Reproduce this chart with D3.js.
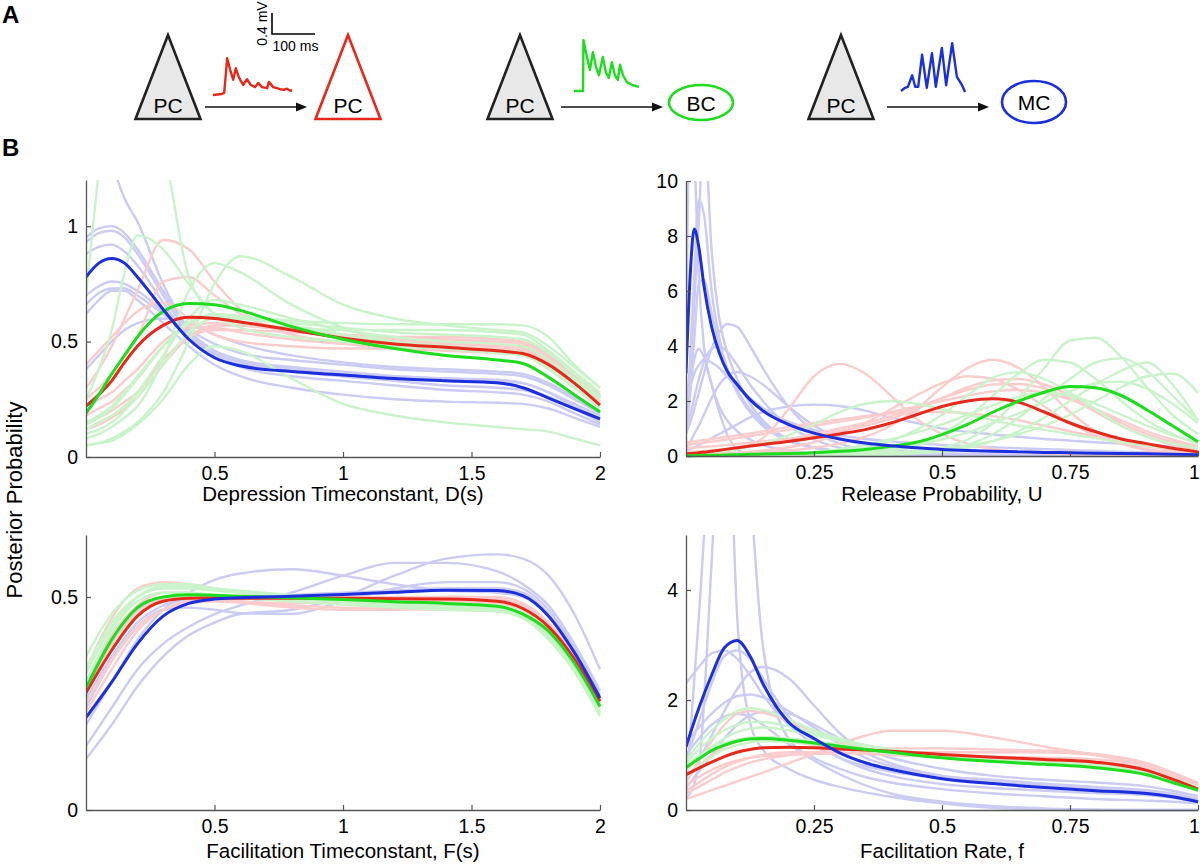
<!DOCTYPE html>
<html><head><meta charset="utf-8">
<script src="https://cdn.jsdelivr.net/npm/d3@7"></script>
<style>
body{margin:0;background:#fff}
svg{display:block}
text{font-family:"Liberation Sans",Arial,Helvetica,sans-serif}
</style></head>
<body>
<script>
// ---------------- DATA ----------------
// Panel A traces (time in ms, amplitude in mV)
const traceRedT   = [0,21,26,33,40,47,53,60,70,79,88,98,105,114,126,130,140,156,165,172,178,184];
const traceRedV   = [0,0.02,0.04,0.70,0.48,0.29,0.51,0.34,0.19,0.30,0.19,0.15,0.23,0.15,0.13,0.25,0.15,0.11,0.10,0.12,0.09,0.08];
const traceGreenT = [0,21,22,30,37,44,51,58,67,74,81,88,95,102,107,114,123,137,151];
const traceGreenV = [0,0,0.97,0.65,0.40,0.74,0.46,0.30,0.65,0.36,0.25,0.55,0.30,0.21,0.50,0.30,0.17,0.11,0.08];
const traceBlueT  = [0,9,16,26,33,40,49,60,72,81,95,105,119,130,142,149];
const traceBlueV  = [0,0.06,0.08,0.30,0.08,0.08,0.69,0.06,0.72,0.08,0.82,0.11,0.91,0.27,0.11,-0.02];
const scaleBarMs = 100, scaleBarMv = 0.4;

// Panel B — Depression timeconstant D(s)
const dGrid  = [0,0.05,0.1,0.15,0.2,0.3,0.4,0.5,0.6,0.8,1.0,1.2,1.4,1.6,1.7,1.8,1.9,2.0];
const dRed   = [0.22,0.27,0.33,0.41,0.48,0.57,0.605,0.60,0.585,0.55,0.515,0.49,0.475,0.46,0.448,0.40,0.32,0.225];
const dGreen = [0.19,0.27,0.36,0.44,0.52,0.63,0.665,0.66,0.635,0.565,0.51,0.47,0.44,0.42,0.405,0.345,0.27,0.195];
const dBlue  = [0.78,0.84,0.86,0.84,0.78,0.64,0.51,0.43,0.395,0.37,0.355,0.34,0.33,0.322,0.30,0.255,0.21,0.165];
const dRedFaint = [
 [0.3,0.38,0.48,0.6,0.72,0.94,0.9,0.76,0.64,0.53,0.5,0.49,0.48,0.47,0.46,0.41,0.33,0.25],
 [0.25,0.3,0.36,0.44,0.52,0.76,0.78,0.7,0.62,0.55,0.52,0.5,0.49,0.48,0.47,0.42,0.34,0.26],
 [0.18,0.21,0.24,0.29,0.34,0.48,0.57,0.58,0.57,0.55,0.53,0.52,0.51,0.5,0.49,0.44,0.35,0.26],
 [0.15,0.17,0.2,0.24,0.28,0.42,0.52,0.55,0.55,0.54,0.53,0.52,0.52,0.51,0.5,0.45,0.36,0.27],
 [0.4,0.46,0.52,0.58,0.63,0.67,0.6,0.53,0.5,0.48,0.47,0.47,0.47,0.46,0.45,0.41,0.33,0.25],
 [0.12,0.14,0.17,0.21,0.26,0.4,0.52,0.57,0.57,0.55,0.53,0.51,0.5,0.49,0.48,0.43,0.35,0.27],
 [0.22,0.25,0.28,0.33,0.38,0.5,0.56,0.56,0.54,0.51,0.49,0.47,0.46,0.45,0.44,0.39,0.32,0.24]
];
const dGreenFaint = [
 [0.70,1.25,1.7,1.8,1.65,1.35,0.78,0.62,0.58,0.56,0.55,0.55,0.55,0.54,0.53,0.46,0.37,0.28],
 [0.25,0.38,0.55,0.8,0.96,0.9,0.75,0.62,0.56,0.52,0.5,0.48,0.47,0.46,0.45,0.4,0.33,0.25],
 [0.05,0.06,0.08,0.11,0.15,0.28,0.5,0.75,0.87,0.78,0.66,0.6,0.57,0.55,0.54,0.48,0.39,0.3],
 [0.08,0.1,0.13,0.17,0.22,0.42,0.72,0.84,0.8,0.66,0.56,0.5,0.47,0.45,0.44,0.38,0.3,0.22],
 [0.12,0.15,0.18,0.22,0.28,0.44,0.6,0.68,0.66,0.6,0.55,0.52,0.5,0.49,0.48,0.42,0.34,0.25],
 [0.05,0.06,0.07,0.1,0.14,0.25,0.4,0.48,0.46,0.34,0.23,0.18,0.15,0.13,0.12,0.11,0.08,0.05],
 [0.15,0.18,0.22,0.28,0.35,0.48,0.58,0.62,0.61,0.59,0.58,0.575,0.575,0.575,0.57,0.52,0.4,0.3],
 [0.1,0.12,0.15,0.2,0.26,0.4,0.54,0.6,0.6,0.57,0.53,0.5,0.48,0.46,0.45,0.39,0.3,0.21],
 [0.14,0.17,0.21,0.27,0.34,0.48,0.58,0.61,0.6,0.58,0.56,0.54,0.53,0.52,0.51,0.45,0.36,0.26]
];
const dBlueFaint = [
 [0.95,0.99,1.0,0.97,0.9,0.72,0.55,0.46,0.42,0.39,0.37,0.35,0.34,0.33,0.32,0.28,0.23,0.18],
 [0.93,0.97,0.98,0.95,0.88,0.70,0.53,0.44,0.40,0.37,0.35,0.34,0.33,0.32,0.30,0.26,0.21,0.16],
 [0.88,0.91,0.92,0.89,0.83,0.67,0.52,0.45,0.41,0.38,0.36,0.35,0.34,0.335,0.32,0.28,0.22,0.17],
 [0.70,0.74,0.76,0.75,0.72,0.63,0.54,0.46,0.42,0.38,0.35,0.33,0.31,0.30,0.29,0.26,0.21,0.15],
 [0.66,0.71,0.73,0.73,0.70,0.62,0.55,0.49,0.45,0.42,0.40,0.38,0.37,0.36,0.35,0.31,0.25,0.19],
 [0.38,0.44,0.50,0.55,0.58,0.60,0.58,0.53,0.49,0.44,0.41,0.39,0.38,0.37,0.36,0.32,0.26,0.20],
 [1.7,1.5,1.28,1.12,1.02,0.75,0.55,0.44,0.39,0.35,0.33,0.31,0.29,0.28,0.27,0.24,0.19,0.14],
 [0.62,0.68,0.72,0.72,0.68,0.58,0.48,0.40,0.35,0.30,0.27,0.25,0.24,0.235,0.23,0.21,0.17,0.13]
];

// Panel B — Release probability U
const uGrid  = [0,0.008,0.016,0.025,0.035,0.05,0.065,0.08,0.1,0.125,0.15,0.2,0.25,0.3,0.35,0.4,0.45,0.5,0.55,0.6,0.65,0.7,0.75,0.8,0.85,0.9,0.95,1.0];
const uRed   = [0.08,0.09,0.1,0.12,0.14,0.17,0.21,0.25,0.3,0.36,0.42,0.53,0.66,0.8,0.96,1.2,1.5,1.8,2.0,2.08,1.95,1.6,1.2,0.88,0.62,0.45,0.28,0.15];
const uGreen = [0.01,0.01,0.015,0.02,0.02,0.03,0.03,0.04,0.05,0.06,0.07,0.09,0.12,0.17,0.24,0.35,0.5,0.78,1.15,1.6,2.0,2.32,2.53,2.48,2.2,1.68,1.1,0.52];
const uBlue  = [3.0,6.5,8.25,7.6,6.2,4.7,3.75,3.1,2.6,2.05,1.65,1.15,0.83,0.62,0.47,0.37,0.3,0.24,0.2,0.17,0.15,0.13,0.12,0.1,0.09,0.08,0.06,0.05];
const uRedFaint = [
 [0.05,0.05,0.06,0.07,0.08,0.1,0.13,0.17,0.25,0.4,0.65,1.7,2.9,3.35,3.0,2.2,1.35,0.8,0.45,0.25,0.15,0.1,0.07,0.05,0.04,0.03,0.03,0.02],
 [0.05,0.05,0.05,0.06,0.06,0.07,0.08,0.09,0.1,0.12,0.14,0.2,0.3,0.45,0.7,1.1,1.7,2.5,3.2,3.5,3.2,2.5,1.6,0.9,0.45,0.22,0.12,0.06],
 [0.3,0.3,0.31,0.32,0.33,0.35,0.37,0.4,0.43,0.48,0.53,0.63,0.75,0.9,1.1,1.35,1.7,2.1,2.5,2.75,2.8,2.6,2.2,1.7,1.2,0.8,0.5,0.3],
 [0.5,0.52,0.54,0.56,0.58,0.62,0.66,0.7,0.75,0.82,0.9,1.05,1.2,1.33,1.45,1.55,1.6,1.6,1.55,1.45,1.3,1.1,0.9,0.7,0.5,0.35,0.22,0.12],
 [0.15,0.15,0.16,0.17,0.18,0.2,0.22,0.25,0.3,0.36,0.43,0.6,0.8,1.0,1.2,1.45,1.75,2.1,2.4,2.6,2.62,2.45,2.1,1.6,1.1,0.7,0.4,0.2],
 [0.05,0.05,0.05,0.06,0.06,0.07,0.08,0.1,0.12,0.15,0.2,0.32,0.5,0.8,1.2,1.7,2.2,2.65,2.9,2.8,2.4,1.8,1.2,0.75,0.45,0.25,0.15,0.08],
 [0.4,0.42,0.44,0.46,0.48,0.52,0.56,0.6,0.65,0.72,0.8,0.95,1.1,1.25,1.4,1.6,1.8,2.0,2.2,2.35,2.4,2.3,2.05,1.7,1.3,0.9,0.6,0.35]
];
const uGreenFaint = [
 [0.01,0.01,0.01,0.01,0.01,0.01,0.01,0.01,0.01,0.01,0.01,0.01,0.01,0.02,0.03,0.07,0.15,0.3,0.6,1.2,2.1,3.2,4.2,4.3,3.6,2.5,1.5,0.8],
 [0,0,0,0,0,0,0.01,0.01,0.01,0.01,0.01,0.01,0.02,0.03,0.04,0.05,0.1,0.2,0.4,0.8,1.4,2.1,2.8,3.4,3.55,3.1,2.2,1.3],
 [0,0,0,0,0,0,0,0.01,0.01,0.01,0.01,0.02,0.03,0.05,0.08,0.1,0.12,0.15,0.3,0.55,0.9,1.4,2.0,2.6,3.1,3.4,2.6,1.3],
 [0.01,0.01,0.01,0.01,0.01,0.01,0.01,0.01,0.01,0.02,0.02,0.03,0.04,0.06,0.1,0.2,0.4,0.8,1.4,2.2,3.0,3.5,3.4,2.8,2.0,1.3,0.8,0.45],
 [0.01,0.01,0.01,0.01,0.01,0.02,0.02,0.02,0.03,0.04,0.05,0.07,0.1,0.15,0.3,0.55,0.95,1.5,2.2,2.85,3.05,2.8,2.3,1.7,1.1,0.7,0.45,0.3],
 [0.1,0.1,0.11,0.12,0.13,0.15,0.17,0.2,0.25,0.35,0.45,0.75,1.15,1.6,1.9,2.0,1.9,1.7,1.5,1.3,1.1,0.95,0.8,0.65,0.5,0.38,0.27,0.18],
 [0.02,0.02,0.02,0.02,0.02,0.03,0.03,0.03,0.04,0.05,0.06,0.08,0.1,0.1,0.15,0.25,0.4,0.6,0.85,1.2,1.55,1.95,2.35,2.65,2.7,2.45,1.9,1.2],
 [0.02,0.02,0.02,0.02,0.02,0.03,0.03,0.04,0.05,0.06,0.07,0.1,0.15,0.25,0.4,0.6,0.85,1.15,1.5,1.85,2.15,2.3,2.2,1.9,1.5,1.1,0.75,0.5],
 [0,0,0,0,0,0,0,0,0.01,0.01,0.01,0.02,0.03,0.05,0.08,0.12,0.18,0.25,0.38,0.55,0.8,1.1,1.5,2.0,2.5,2.9,3.0,2.3]
];
const uBlueFaint = [
 [3.5,12,11,6.5,4.0,2.6,1.8,1.3,0.9,0.6,0.4,0.2,0.1,0.06,0.04,0.03,0.02,0.02,0.02,0.01,0.01,0.01,0.01,0.01,0.01,0.01,0.01,0.01],
 [1.0,3.0,5.5,8.5,12,7.5,5.0,3.8,2.8,1.9,1.3,0.6,0.3,0.18,0.12,0.08,0.06,0.05,0.04,0.03,0.03,0.02,0.02,0.02,0.02,0.01,0.01,0.01],
 [1.5,3.5,6.5,9.3,8.8,6.0,4.3,3.2,2.3,1.6,1.1,0.55,0.3,0.18,0.12,0.09,0.07,0.05,0.04,0.03,0.03,0.02,0.02,0.02,0.02,0.01,0.01,0.01],
 [1.0,2.2,4.2,6.3,6.4,5.2,4.0,3.2,2.4,1.7,1.2,0.6,0.3,0.18,0.12,0.08,0.06,0.05,0.04,0.04,0.03,0.03,0.03,0.02,0.02,0.02,0.02,0.02],
 [0.8,1.2,1.7,2.3,3.0,3.9,4.5,4.8,4.7,4.0,3.2,1.8,0.9,0.45,0.22,0.12,0.07,0.05,0.04,0.03,0.03,0.02,0.02,0.02,0.02,0.02,0.01,0.01],
 [1.0,1.5,2.1,2.8,3.4,3.9,4.0,3.8,3.3,2.6,2.0,1.1,0.6,0.3,0.15,0.08,0.05,0.04,0.03,0.03,0.02,0.02,0.02,0.02,0.02,0.01,0.01,0.01],
 [0.3,0.5,0.8,1.1,1.5,2.1,2.6,2.9,3.05,2.9,2.6,1.8,1.1,0.65,0.4,0.25,0.15,0.1,0.08,0.06,0.05,0.04,0.04,0.03,0.03,0.03,0.02,0.02],
 [0.2,0.25,0.3,0.4,0.5,0.65,0.8,0.95,1.15,1.4,1.6,1.8,1.87,1.82,1.65,1.4,1.2,1.0,0.88,0.78,0.7,0.62,0.56,0.5,0.45,0.4,0.35,0.3],
 [1.8,2.6,3.5,3.9,3.6,2.6,1.6,0.8,0.25,0.05,0.02,0.01,0.01,0,0,0,0,0,0,0,0,0,0,0,0,0,0,0],
 [2.0,2.5,3.0,3.3,3.5,3.4,3.2,2.9,2.5,2.1,1.75,1.25,0.95,0.75,0.62,0.53,0.46,0.4,0.36,0.32,0.28,0.25,0.22,0.19,0.16,0.14,0.12,0.1]
];

// Panel B — Facilitation timeconstant F(s)
const fGrid  = [0,0.1,0.2,0.3,0.4,0.5,0.6,0.8,1.0,1.2,1.4,1.6,1.7,1.8,1.9,2.0];
const fRed   = [0.275,0.375,0.455,0.49,0.497,0.498,0.497,0.497,0.497,0.496,0.495,0.49,0.473,0.43,0.355,0.255];
const fGreen = [0.286,0.40,0.475,0.50,0.505,0.504,0.502,0.498,0.494,0.489,0.485,0.478,0.46,0.42,0.345,0.243];
const fBlue  = [0.217,0.30,0.39,0.455,0.485,0.495,0.498,0.502,0.506,0.511,0.516,0.515,0.503,0.455,0.37,0.263];
const fRedFaint = [
 [0.33,0.45,0.52,0.535,0.53,0.52,0.51,0.5,0.495,0.49,0.49,0.485,0.47,0.43,0.36,0.26],
 [0.25,0.35,0.43,0.47,0.485,0.49,0.487,0.48,0.475,0.472,0.47,0.468,0.455,0.415,0.345,0.25],
 [0.3,0.41,0.48,0.51,0.51,0.5,0.49,0.485,0.49,0.495,0.5,0.5,0.485,0.44,0.365,0.26],
 [0.23,0.33,0.42,0.47,0.49,0.495,0.5,0.5,0.5,0.5,0.5,0.495,0.48,0.435,0.36,0.255],
 [0.28,0.39,0.465,0.495,0.5,0.495,0.487,0.475,0.47,0.47,0.473,0.475,0.46,0.42,0.35,0.25]
];
const fGreenFaint = [
 [0.36,0.46,0.515,0.53,0.53,0.52,0.51,0.5,0.49,0.485,0.48,0.475,0.46,0.42,0.345,0.24],
 [0.33,0.44,0.5,0.52,0.52,0.515,0.51,0.5,0.49,0.48,0.475,0.47,0.455,0.41,0.335,0.23],
 [0.3,0.42,0.49,0.51,0.51,0.505,0.5,0.495,0.488,0.48,0.473,0.468,0.45,0.405,0.33,0.225],
 [0.27,0.38,0.46,0.49,0.5,0.5,0.5,0.5,0.495,0.49,0.485,0.48,0.465,0.425,0.35,0.25],
 [0.32,0.43,0.5,0.525,0.525,0.52,0.515,0.505,0.497,0.49,0.485,0.48,0.465,0.42,0.34,0.235],
 [0.29,0.4,0.475,0.5,0.505,0.5,0.497,0.49,0.482,0.475,0.47,0.466,0.45,0.4,0.325,0.22]
];
const fBlueFaint = [
 [0.12,0.2,0.29,0.36,0.41,0.44,0.46,0.47,0.5,0.55,0.59,0.6,0.59,0.55,0.46,0.33],
 [0.15,0.24,0.33,0.39,0.43,0.46,0.48,0.51,0.55,0.58,0.58,0.56,0.53,0.48,0.39,0.28],
 [0.2,0.3,0.4,0.47,0.51,0.54,0.555,0.565,0.55,0.53,0.515,0.51,0.5,0.46,0.38,0.27],
 [0.24,0.35,0.43,0.47,0.475,0.47,0.462,0.46,0.49,0.52,0.535,0.535,0.52,0.47,0.38,0.26],
 [0.26,0.36,0.44,0.48,0.495,0.5,0.5,0.505,0.51,0.515,0.52,0.52,0.51,0.46,0.37,0.25],
 [0.3,0.4,0.47,0.495,0.5,0.5,0.5,0.5,0.505,0.51,0.52,0.52,0.505,0.455,0.37,0.26]
];

// Panel B — Facilitation rate f
const rGrid  = [0,0.025,0.05,0.075,0.1,0.125,0.15,0.2,0.25,0.3,0.35,0.4,0.5,0.6,0.7,0.8,0.9,0.95,1.0];
const rRed   = [0.64,0.76,0.87,0.97,1.05,1.1,1.13,1.14,1.13,1.11,1.09,1.07,1.01,0.96,0.92,0.87,0.72,0.56,0.38];
const rGreen = [0.77,0.93,1.08,1.18,1.25,1.29,1.3,1.27,1.22,1.16,1.1,1.05,0.95,0.88,0.83,0.77,0.64,0.5,0.36];
const rBlue  = [1.15,1.85,2.45,2.95,3.08,2.8,2.3,1.6,1.3,1.04,0.86,0.74,0.57,0.48,0.41,0.35,0.3,0.24,0.15];
const rRedFaint = [
 [0.5,0.9,1.25,1.55,1.75,1.8,1.77,1.62,1.42,1.25,1.12,1.05,0.98,0.95,0.92,0.88,0.75,0.6,0.42],
 [0.2,0.28,0.36,0.44,0.52,0.6,0.68,0.85,1.02,1.2,1.35,1.44,1.44,1.32,1.15,1.0,0.8,0.65,0.48],
 [0.45,0.6,0.73,0.83,0.9,0.95,0.98,1.0,1.02,1.03,1.04,1.05,1.05,1.05,1.05,1.0,0.85,0.68,0.48],
 [0.35,0.5,0.65,0.78,0.88,0.95,1.0,1.05,1.05,1.04,1.02,1.0,0.96,0.93,0.9,0.85,0.72,0.58,0.4],
 [0.6,0.8,1.0,1.15,1.25,1.3,1.3,1.25,1.18,1.12,1.08,1.05,1.0,0.97,0.95,0.92,0.8,0.65,0.45],
 [0.3,0.42,0.55,0.68,0.78,0.86,0.92,1.0,1.05,1.08,1.1,1.12,1.12,1.1,1.08,1.02,0.85,0.68,0.5]
];
const rGreenFaint = [
 [0.9,1.2,1.45,1.65,1.8,1.85,1.82,1.65,1.45,1.3,1.18,1.1,0.98,0.9,0.85,0.8,0.68,0.55,0.4],
 [0.85,1.1,1.3,1.45,1.55,1.6,1.6,1.52,1.4,1.28,1.18,1.1,1.0,0.93,0.88,0.82,0.7,0.56,0.42],
 [0.7,0.95,1.15,1.3,1.42,1.48,1.5,1.45,1.36,1.26,1.17,1.1,0.99,0.91,0.86,0.8,0.67,0.53,0.38],
 [0.8,0.98,1.12,1.22,1.28,1.32,1.33,1.3,1.25,1.19,1.12,1.06,0.96,0.89,0.84,0.78,0.65,0.51,0.37],
 [0.6,0.8,0.97,1.1,1.18,1.23,1.25,1.24,1.2,1.14,1.08,1.03,0.95,0.9,0.85,0.8,0.68,0.54,0.4]
];
const rBlueFaint = [
 [0.3,3.5,7,9,3.5,1.6,1.1,0.75,0.55,0.42,0.32,0.24,0.12,0.04,0.01,0,0,0,0],
 [0.2,0.8,4.5,9,10,6,3.0,1.3,0.95,0.75,0.6,0.5,0.38,0.3,0.25,0.2,0.17,0.15,0.12],
 [0.9,1.6,2.3,2.8,2.9,2.75,2.4,1.7,1.25,0.95,0.75,0.62,0.47,0.4,0.35,0.31,0.27,0.22,0.14],
 [0.5,0.9,1.35,1.8,2.2,2.5,2.6,2.4,1.9,1.4,1.05,0.85,0.62,0.52,0.45,0.4,0.35,0.28,0.18],
 [1.2,1.5,1.75,1.95,2.07,2.1,2.05,1.8,1.5,1.2,0.95,0.8,0.62,0.55,0.48,0.42,0.36,0.3,0.2],
 [0.4,0.7,1.0,1.3,1.55,1.72,1.78,1.75,1.55,1.3,1.1,0.95,0.75,0.62,0.55,0.5,0.43,0.35,0.25],
 [1.0,1.3,1.55,1.7,1.75,1.7,1.55,1.2,0.9,0.65,0.45,0.3,0.15,0.07,0.03,0.01,0,0,0],
 [2.3,2.6,2.85,2.9,2.75,2.45,2.1,1.55,1.2,0.95,0.8,0.7,0.58,0.5,0.44,0.38,0.32,0.26,0.17]
];

// Axis ticks and labels
const dXTicks = [0.5,1,1.5,2], dYTicks = [0,0.5,1];
const uXTicks = [0.25,0.5,0.75,1], uYTicks = [0,2,4,6,8,10];
const fXTicks = [0.5,1,1.5,2], fYTicks = [0,0.5];
const rXTicks = [0.25,0.5,0.75,1], rYTicks = [0,2,4];
const xLabels = ["Depression Timeconstant, D(s)","Release Probability, U","Facilitation Timeconstant, F(s)","Facilitation Rate, f"];
const yLabel = "Posterior Probability";

// ---------------- DRAWING ----------------
const COL   = {red:"#e6291b", green:"#1edc1e", blue:"#1c2fdc"};
const FAINT = {red:"#fbcccc", green:"#c9f4c9", blue:"#cbcbf4"};
const AXC = "#555";

const svg = d3.select("body").append("svg").attr("width",1200).attr("height",865);
const defs = svg.append("defs");

function drawPanel(p){
  const x = d3.scaleLinear().domain(p.xDomain).range([p.x0,p.x1]);
  const y = d3.scaleLinear().domain(p.yDomain).range([p.yb,p.yt]);
  const cid = "clip"+p.id;
  defs.append("clipPath").attr("id",cid).append("rect")
    .attr("x",p.x0).attr("y",p.yt).attr("width",p.x1-p.x0+2).attr("height",p.yb-p.yt+2);
  const line = d3.line().x((d,i)=>x(p.grid[i])).y(d=>y(d)).curve(d3.curveMonotoneX);
  const plot = svg.append("g").attr("clip-path",`url(#${cid})`);
  ["blue","red","green"].forEach(c=>{
    p.faint[c].forEach(arr=>{
      plot.append("path").attr("d",line(arr)).attr("fill","none")
        .attr("stroke",FAINT[c]).attr("stroke-width",2.4).attr("stroke-linejoin","round");
    });
  });
  ["red","green","blue"].forEach(c=>{
    plot.append("path").attr("d",line(p.bold[c])).attr("fill","none")
      .attr("stroke",COL[c]).attr("stroke-width",3).attr("stroke-linejoin","round");
  });
  const fmt = d=>String(d);
  const ga = svg.append("g").attr("transform",`translate(${p.x0},0)`)
    .call(d3.axisLeft(y).tickValues(p.yTicks).tickFormat(fmt).tickSize(-5).tickSizeOuter(0).tickPadding(8));
  const gb = svg.append("g").attr("transform",`translate(0,${p.yb})`)
    .call(d3.axisBottom(x).tickValues(p.xTicks).tickFormat(fmt).tickSize(-5).tickSizeOuter(0).tickPadding(9));
  [ga,gb].forEach(g=>{
    g.select(".domain").attr("stroke",AXC).attr("stroke-width",1.3);
    g.selectAll(".tick line").attr("stroke",AXC).attr("stroke-width",1.2);
    g.selectAll(".tick text").attr("fill","#000").style("font-size","19.5px")
      .style("font-family",'"Liberation Sans",Arial,sans-serif');
  });
  // keep the last label at the right page edge inside the picture
  gb.selectAll(".tick text").filter(d=>x(d)>1190).attr("dx","-4px");
  svg.append("text").attr("x",(p.x0+p.x1)/2).attr("y",p.labelY).attr("text-anchor","middle")
    .style("font-size","20.5px").attr("fill","#000").text(p.label);
}

drawPanel({id:1,grid:dGrid,xDomain:[0,2],yDomain:[0,1.2],x0:86,x1:600,yb:457,yt:180,
  bold:{red:dRed,green:dGreen,blue:dBlue},faint:{red:dRedFaint,green:dGreenFaint,blue:dBlueFaint},
  xTicks:dXTicks,yTicks:dYTicks,label:xLabels[0],labelY:501});
drawPanel({id:2,grid:uGrid,xDomain:[0,1],yDomain:[0,10],x0:686,x1:1198,yb:456,yt:181,
  bold:{red:uRed,green:uGreen,blue:uBlue},faint:{red:uRedFaint,green:uGreenFaint,blue:uBlueFaint},
  xTicks:uXTicks,yTicks:uYTicks,label:xLabels[1],labelY:501});
drawPanel({id:3,grid:fGrid,xDomain:[0,2],yDomain:[0,0.6455],x0:86,x1:600,yb:810,yt:535,
  bold:{red:fRed,green:fGreen,blue:fBlue},faint:{red:fRedFaint,green:fGreenFaint,blue:fBlueFaint},
  xTicks:fXTicks,yTicks:fYTicks,label:xLabels[2],labelY:858});
drawPanel({id:4,grid:rGrid,xDomain:[0,1],yDomain:[0,5],x0:686,x1:1198,yb:810,yt:535,
  bold:{red:rRed,green:rGreen,blue:rBlue},faint:{red:rRedFaint,green:rGreenFaint,blue:rBlueFaint},
  xTicks:rXTicks,yTicks:rYTicks,label:xLabels[3],labelY:858});

svg.append("text").attr("transform","translate(22,500) rotate(-90)").attr("text-anchor","middle")
  .style("font-size","22px").attr("fill","#000").text(yLabel);

// panel letters
svg.append("text").attr("x",2).attr("y",23).style("font-size","24px").style("font-weight","bold").text("A");
svg.append("text").attr("x",2).attr("y",156).style("font-size","24px").style("font-weight","bold").text("B");

// ---- Panel A schematic ----
const tx = d3.scaleLinear().domain([0,scaleBarMs]).range([0,43]);
const ty = d3.scaleLinear().domain([0,scaleBarMv]).range([0,-21]);

function triangle(cx, stroke, fill){
  svg.append("polygon").attr("points",`${cx},35 ${cx-32.5},119 ${cx+32.5},119`)
    .attr("fill",fill).attr("stroke",stroke).attr("stroke-width",2.6).attr("stroke-linejoin","miter");
  svg.append("text").attr("x",cx).attr("y",113).attr("text-anchor","middle").style("font-size","21px").text("PC");
}
function ellipse(cx,cy,rx,ry,stroke,label){
  svg.append("ellipse").attr("cx",cx).attr("cy",cy).attr("rx",rx).attr("ry",ry)
    .attr("fill","#fff").attr("stroke",stroke).attr("stroke-width",2.6);
  svg.append("text").attr("x",cx).attr("y",cy+8).attr("text-anchor","middle").style("font-size","21px").text(label);
}
function arrow(x1,x2,yy){
  svg.append("line").attr("x1",x1).attr("x2",x2-8).attr("y1",yy).attr("y2",yy).attr("stroke","#111").attr("stroke-width",1.5);
  svg.append("polygon").attr("points",`${x2},${yy} ${x2-11},${yy-4.5} ${x2-11},${yy+4.5}`).attr("fill","#111");
}
function trace(ox, oy, T, V, color){
  const pts = T.map((t,i)=>[t,V[i]]);
  svg.append("path").attr("transform",`translate(${ox},${oy})`)
    .attr("d",d3.line().x(d=>tx(d[0])).y(d=>ty(d[1]))(pts))
    .attr("fill","none").attr("stroke",color).attr("stroke-width",2.4).attr("stroke-linejoin","round");
}

triangle(168,"#222","#e8e8e8");
triangle(348,COL.red,"#fff");
triangle(520,"#222","#e8e8e8");
triangle(841,"#222","#e8e8e8");
ellipse(701,102.5,32,17.5,COL.green,"BC");
ellipse(1034,102,32,21,COL.blue,"MC");
arrow(205,307,107);
arrow(561,663,107);
arrow(887,989,107);
trace(213,95,traceRedT,traceRedV,COL.red);
trace(574,91,traceGreenT,traceGreenV,COL.green);
trace(901,91,traceBlueT,traceBlueV,COL.blue);

// scale bar
const sb = svg.append("g").attr("transform","translate(272,34)");
sb.append("path").attr("d",`M0,${ty(scaleBarMv)}V0H${tx(scaleBarMs)}`).attr("fill","none").attr("stroke","#000").attr("stroke-width",1.6);
sb.append("text").attr("x",tx(scaleBarMs)/2+2).attr("y",17).attr("text-anchor","middle").style("font-size","14px").text(scaleBarMs+" ms");
sb.append("text").attr("transform",`translate(-5,${ty(scaleBarMv)/2}) rotate(-90)`).attr("text-anchor","middle").style("font-size","14px").text(scaleBarMv+" mV");
</script>
</body></html>
